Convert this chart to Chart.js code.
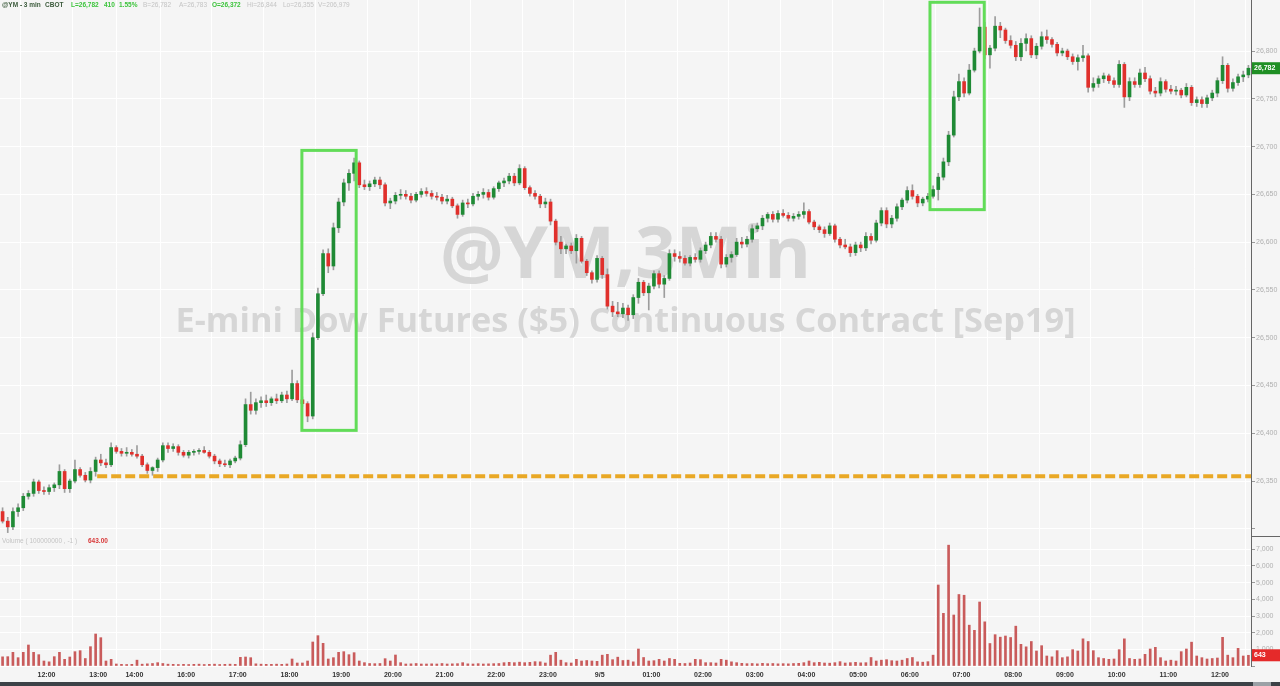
<!DOCTYPE html>
<html><head><meta charset="utf-8">
<script src="https://cdn.jsdelivr.net/npm/chart.js@4.4.1/dist/chart.umd.min.js"></script>
<style>
html,body{margin:0;padding:0;background:#f5f5f5;width:1280px;height:686px;overflow:hidden;font-family:"Liberation Sans",Arial,sans-serif;}
#wrap{position:relative;width:1280px;height:686px;}
#pc{position:absolute;left:0;top:0;}
#vc{position:absolute;left:0;top:537px;}
.t{position:absolute;white-space:nowrap;font-size:6.5px;line-height:8px;}
.b{font-weight:bold;}
.dk{color:#3b5a3b;}
.gr{color:#3cc43c;}
.gy{color:#c4c4c4;}
#sep{position:absolute;left:1251px;top:536px;width:29px;height:1px;background:#666;}
#bar{position:absolute;left:0;top:682px;width:1280px;height:4px;background:#3c4247;}
#thumb{position:absolute;left:1253px;top:682px;width:18px;height:4px;background:#9ba1a6;}
</style></head>
<body><div id="wrap">
<canvas id="pc" width="1280" height="537"></canvas>
<canvas id="vc" width="1280" height="145"></canvas>
<div id="sep"></div><div id="bar"></div><div id="thumb"></div>
<span class="t b dk" style="left:2px;top:1px">@YM - 3 min</span>
<span class="t b dk" style="left:45px;top:1px">CBOT</span>
<span class="t b gr" style="left:71px;top:1px">L=26,782</span>
<span class="t b gr" style="left:104px;top:1px">410</span>
<span class="t b gr" style="left:119px;top:1px">1.55%</span>
<span class="t gy" style="left:143px;top:1px">B=26,782</span>
<span class="t gy" style="left:179px;top:1px">A=26,783</span>
<span class="t b gr" style="left:212px;top:1px">O=26,372</span>
<span class="t gy" style="left:247px;top:1px">Hi=26,844</span>
<span class="t gy" style="left:283px;top:1px">Lo=26,355</span>
<span class="t gy" style="left:318px;top:1px">V=206,979</span>
<span class="t gy" style="left:2px;top:537px">Volume ( 100000000 , -1 )</span>
<span class="t b" style="left:88px;top:537px;color:#d83a3a">643.00</span>
</div>
<script>
// ---- data (6-minute aggregation of the 3-min candles) ----
const opens = [
26318,26308,26302,26318,26322,26334,26337,26349,26340,26339,
26343,26346,26360,26342,26350,26362,26356,26351,26360,26372,
26369,26367,26385,26381,26379,26380,26378,26376,26367,26361,
26364,26372,26387,26384,26386,26380,26377,26380,26381,26382,
26380,26376,26371,26368,26367,26371,26374,26388,26430,26424,
26432,26434,26432,26436,26434,26440,26436,26452,26435,26431,
26418,26500,26546,26588,26575,26615,26642,26662,26672,26683,
26660,26658,26661,26665,26660,26641,26643,26649,26650,26648,
26644,26650,26653,26651,26648,26647,26643,26645,26638,26629,
26641,26640,26648,26650,26652,26647,26656,26662,26664,26669,
26662,26677,26657,26651,26648,26640,26642,26622,26600,26593,
26596,26591,26604,26580,26568,26561,26583,26566,26533,26527,
26525,26531,26524,26542,26558,26547,26554,26567,26556,26562,
26588,26585,26583,26578,26584,26582,26591,26597,26606,26603,
26577,26584,26587,26600,26598,26603,26614,26617,26625,26629,
26624,26630,26628,26625,26627,26629,26632,26621,26616,26613,
26609,26617,26603,26597,26595,26589,26597,26594,26606,26602,
26620,26633,26619,26625,26637,26644,26654,26648,26641,26645,
26648,26655,26668,26684,26712,26752,26768,26756,26780,26800,
26825,26796,26803,26826,26822,26811,26806,26794,26808,26813,
26796,26805,26815,26812,26807,26798,26800,26794,26789,26793,
26795,26762,26766,26771,26774,26769,26765,26786,26752,26768,
26765,26777,26771,26758,26756,26768,26760,26758,26759,26754,
26762,26746,26749,26745,26751,26756,26769,26785,26761,26767,
26773,26775];
const highs = [
26322,26312,26322,26326,26337,26340,26352,26351,26344,26346,
26348,26367,26362,26352,26372,26364,26359,26364,26375,26378,
26373,26390,26387,26384,26385,26383,26387,26378,26369,26365,
26374,26390,26390,26389,26388,26382,26382,26383,26384,26386,
26382,26378,26373,26372,26373,26376,26392,26436,26443,26436,
26438,26440,26438,26441,26443,26444,26466,26455,26438,26433,
26505,26552,26592,26593,26620,26646,26666,26676,26688,26685,
26665,26664,26668,26668,26662,26646,26652,26655,26654,26651,
26652,26656,26657,26654,26652,26650,26649,26647,26640,26644,
26645,26651,26653,26656,26655,26658,26664,26667,26672,26672,
26681,26679,26659,26654,26650,26646,26645,26624,26606,26598,
26599,26608,26606,26582,26570,26586,26585,26572,26538,26537,
26536,26534,26545,26562,26560,26557,26570,26570,26565,26592,
26592,26590,26586,26586,26588,26594,26600,26610,26610,26606,
26587,26590,26604,26605,26606,26618,26620,26628,26631,26632,
26633,26634,26631,26630,26632,26641,26634,26623,26618,26616,
26620,26619,26605,26603,26598,26600,26600,26610,26609,26623,
26636,26636,26628,26640,26646,26658,26660,26650,26647,26651,
26659,26672,26688,26716,26758,26776,26772,26786,26803,26845,
26830,26806,26836,26830,26824,26816,26810,26813,26818,26816,
26808,26820,26822,26814,26809,26803,26802,26797,26796,26806,
26797,26772,26774,26777,26776,26772,26790,26788,26772,26772,
26781,26783,26774,26762,26772,26770,26764,26763,26761,26766,
26764,26752,26752,26754,26759,26772,26794,26787,26771,26776,
26779,26785];
const lows = [
26306,26296,26299,26313,26319,26331,26334,26337,26336,26336,
26339,26342,26338,26338,26348,26354,26349,26348,26355,26366,
26364,26365,26379,26376,26376,26376,26374,26365,26358,26356,
26360,26370,26380,26381,26377,26375,26374,26377,26378,26379,
26374,26368,26365,26365,26364,26369,26372,26386,26420,26420,
26427,26428,26429,26431,26432,26432,26434,26432,26428,26412,
26415,26498,26544,26568,26571,26610,26638,26654,26664,26657,
26655,26654,26658,26656,26638,26635,26640,26645,26645,26641,
26642,26647,26648,26645,26644,26640,26640,26636,26625,26627,
26636,26638,26644,26646,26644,26645,26653,26658,26661,26659,
26660,26655,26648,26645,26636,26636,26618,26597,26588,26588,
26588,26578,26578,26565,26557,26558,26562,26530,26522,26522,
26521,26518,26520,26536,26544,26529,26551,26552,26542,26560,
26580,26579,26576,26575,26579,26579,26588,26594,26600,26573,
26574,26579,26585,26594,26595,26600,26611,26613,26621,26621,
26621,26626,26622,26622,26624,26625,26619,26613,26610,26605,
26607,26600,26594,26593,26585,26586,26590,26591,26598,26600,
26617,26615,26615,26622,26634,26641,26645,26637,26638,26642,
26646,26644,26665,26680,26710,26748,26752,26754,26778,26798,
26792,26782,26800,26814,26808,26803,26790,26790,26800,26793,
26792,26802,26808,26804,26795,26795,26791,26786,26780,26789,
26757,26758,26762,26767,26766,26762,26762,26741,26748,26762,
26762,26768,26755,26752,26753,26757,26755,26754,26751,26752,
26743,26742,26741,26741,26748,26752,26766,26757,26758,26764,
26768,26772];
const closes = [
26308,26302,26318,26322,26334,26337,26349,26340,26339,26343,
26346,26360,26342,26350,26362,26356,26351,26360,26372,26369,
26367,26385,26381,26379,26380,26378,26376,26367,26361,26364,
26372,26387,26384,26386,26380,26377,26380,26381,26382,26380,
26376,26371,26368,26367,26371,26374,26388,26430,26424,26432,
26434,26432,26436,26434,26440,26436,26452,26435,26431,26418,
26500,26546,26588,26575,26615,26642,26662,26672,26683,26660,
26658,26661,26665,26660,26641,26643,26649,26650,26648,26644,
26650,26653,26651,26648,26647,26643,26645,26638,26629,26641,
26640,26648,26650,26652,26647,26656,26662,26664,26669,26662,
26677,26657,26651,26648,26640,26642,26622,26600,26593,26596,
26591,26604,26580,26568,26561,26583,26566,26533,26527,26525,
26531,26524,26542,26558,26547,26554,26567,26556,26562,26588,
26585,26583,26578,26584,26582,26591,26597,26606,26603,26577,
26584,26587,26600,26598,26603,26614,26617,26625,26629,26624,
26630,26628,26625,26627,26629,26632,26621,26616,26613,26609,
26617,26603,26597,26595,26589,26597,26594,26606,26602,26620,
26633,26619,26625,26637,26644,26654,26648,26641,26645,26648,
26655,26668,26684,26712,26752,26768,26756,26780,26800,26825,
26796,26803,26826,26822,26811,26806,26794,26808,26813,26796,
26805,26815,26812,26807,26798,26800,26794,26789,26793,26795,
26762,26766,26771,26774,26769,26765,26786,26752,26768,26765,
26777,26771,26758,26756,26768,26760,26758,26759,26754,26762,
26746,26749,26745,26751,26756,26769,26785,26761,26767,26773,
26775,26782];
const volumes = [
550,560,820,500,820,1260,820,680,300,250,
560,820,400,540,860,920,450,1160,1920,1700,
300,400,120,100,90,100,350,110,130,150,
200,150,110,100,90,100,90,100,110,90,
100,110,90,100,110,100,520,540,500,130,
110,100,100,110,100,120,420,180,180,300,
1440,1820,1360,420,500,820,860,680,800,300,
200,150,140,150,440,300,660,200,120,130,
150,120,120,130,120,150,120,130,140,200,
130,120,140,120,130,140,150,200,220,200,
230,200,220,260,250,180,650,820,350,200,
180,400,300,330,300,280,650,700,380,530,
330,350,250,1020,510,300,320,400,300,450,
400,160,150,180,400,380,200,200,180,400,
350,250,200,160,140,150,130,160,140,150,
130,140,130,150,160,200,300,200,220,180,
170,200,260,180,200,220,190,200,510,300,
350,380,320,300,350,450,510,250,230,260,
650,4860,3160,7250,3060,4290,4245,2450,2140,3840,
2650,1350,1880,1730,1800,1710,2390,1300,1150,1470,
900,1220,600,550,920,500,550,980,900,1630,
1470,920,500,450,400,420,980,1630,450,400,
420,700,1020,1120,500,300,350,300,860,1020,
1430,600,500,420,450,480,1720,650,500,1060,
600,643];
// time axis: label and the bar index at which that hour starts
const hourLabels = ['12:00','13:00','14:00','16:00','17:00','18:00','19:00','20:00','21:00','22:00','23:00','9/5',
  '01:00','02:00','03:00','04:00','05:00','06:00','07:00','08:00','09:00','10:00','11:00','12:00'];
const hourStartBar = [9,19,26,36,46,56,66,76,86,96,106,116,126,136,146,156,166,176,186,196,206,216,226,236];
const priceTicks = [26300,26350,26400,26450,26500,26550,26600,26650,26700,26750,26800];
const volumeTicks = [0,1000,2000,3000,4000,5000,6000,7000];
const priceRange = [26291.4, 26853.4];
const volumeRange = [0, 7740];
// annotations
const supportLevel = 26355, supportFromBar = 18.3;
const boxFrom = [57.9, 179.4], boxTo = [68.4, 189.9], boxLow = [26403, 26634], boxHigh = [26696, 26851];
const watermark1 = '@YM,3Min';
const watermark2 = 'E-mini Dow Futures ($5) Continuous Contract [Sep19]';

// ---- rendering ----
const N = closes.length;
const GREEN = '#1f8a35', RED = '#e0302c';
const fmt = v => Math.round(v).toLocaleString('en-US');
const axisFont = '"Liberation Sans Narrow","Liberation Sans",Arial,sans-serif';

const xScale = (showLabels) => ({
  type:'linear', min:-0.5, max:N-0.5, offset:false,
  afterBuildTicks: s => { s.ticks = hourStartBar.map(b => ({value: b - 0.5})); },
  afterFit: s => { s.height = showLabels ? 16 : 0; s.paddingLeft = 0; s.paddingRight = 0; },
  grid:{color:'#ffffff', lineWidth:1, drawTicks:false},
  border:{display:false},
  ticks: showLabels ? {autoSkip:false, maxRotation:0, minRotation:0, padding:5, color:'#333',
      font:{family:axisFont, size:7, weight:'bold'}, callback:(v,i)=>hourLabels[i]} : {display:false}
});
const yFit = s => { s.width = 29; s.paddingTop = 0; s.paddingBottom = 0; };

const overlay = {
  id:'overlay',
  beforeDatasetsDraw(chart){
    const ctx = chart.ctx, a = chart.chartArea, cx = (a.left + a.right)/2;
    ctx.save();
    ctx.fillStyle = '#d6d6d6';
    ctx.textAlign = 'center'; ctx.textBaseline = 'alphabetic';
    ctx.font = 'bold 71px "Open Sans"';
    ctx.fillText(watermark1, cx, 278);
    ctx.font = 'bold 34.3px "Open Sans"';
    ctx.fillText(watermark2, cx, 332);
    ctx.restore();
  },
  afterDatasetsDraw(chart){
    const ctx = chart.ctx, xs = chart.scales.x, ys = chart.scales.y, a = chart.chartArea;
    ctx.save();
    const sy = ys.getPixelForValue(supportLevel);
    ctx.strokeStyle = '#e9a825'; ctx.lineWidth = 4; ctx.setLineDash([10,4]);
    ctx.beginPath(); ctx.moveTo(xs.getPixelForValue(supportFromBar), sy); ctx.lineTo(a.right, sy); ctx.stroke();
    ctx.setLineDash([]);
    ctx.strokeStyle = '#62dc58'; ctx.lineWidth = 3;
    for (let k = 0; k < boxFrom.length; k++) {
      const x1 = xs.getPixelForValue(boxFrom[k]), x2 = xs.getPixelForValue(boxTo[k]);
      const y1 = ys.getPixelForValue(boxHigh[k]), y2 = ys.getPixelForValue(boxLow[k]);
      ctx.strokeRect(x1, y1, x2 - x1, y2 - y1);
    }
    ctx.restore();
  },
  afterDraw(chart){
    const ctx = chart.ctx, ys = chart.scales.y, a = chart.chartArea;
    const last = closes[N-1], y = ys.getPixelForValue(last);
    ctx.save();
    ctx.fillStyle = '#1f8f24';
    ctx.fillRect(a.right + 1, y - 6, 1280 - a.right - 1, 12);
    ctx.fillStyle = '#fff'; ctx.font = 'bold 7px ' + axisFont;
    ctx.textBaseline = 'middle'; ctx.textAlign = 'left';
    ctx.fillText(fmt(last), a.right + 3, y);
    ctx.restore();
  }
};

new Chart(document.getElementById('pc'), {
  type:'bar',
  data:{datasets:[
    {label:'body', data: opens.map((o,i)=>({x:i, y:[o, closes[i]]})),
     backgroundColor: closes.map((c,i)=> c >= opens[i] ? GREEN : RED),
     barThickness:3, grouped:false, order:0, minBarLength:1, borderWidth:0},
    {label:'wick', data: lows.map((l,i)=>({x:i, y:[l, highs[i]]})),
     backgroundColor:'#9d9d9d', barThickness:1, grouped:false, order:1, borderWidth:0}
  ]},
  options:{
    responsive:false, animation:false, devicePixelRatio:1,
    layout:{padding:0},
    plugins:{legend:{display:false}, tooltip:{enabled:false}},
    scales:{
      x: xScale(false),
      y:{position:'right', min:priceRange[0], max:priceRange[1],
        afterBuildTicks: s => { s.ticks = priceTicks.map(v => ({value:v})); },
        afterFit: yFit,
        border:{display:true, color:'#666', width:1},
        grid:{color:'#ffffff', lineWidth:1, drawTicks:true, tickLength:4, tickColor:'#999'},
        ticks:{color:'#b0b0b0', padding:1, font:{family:axisFont, size:7},
          callback: v => v === priceTicks[0] ? '' : fmt(v)}}
    }
  },
  plugins:[overlay]
});

const volTag = {
  id:'volTag',
  afterDraw(chart){
    const ctx = chart.ctx, ys = chart.scales.y, a = chart.chartArea;
    const v = volumes[N-1], y = ys.getPixelForValue(v);
    ctx.save();
    ctx.fillStyle = '#e52a2a';
    ctx.fillRect(a.right + 1, y - 6, 1280 - a.right - 1, 12);
    ctx.fillStyle = '#fff'; ctx.font = 'bold 7px ' + axisFont;
    ctx.textBaseline = 'middle'; ctx.textAlign = 'left';
    ctx.fillText(String(v), a.right + 3, y);
    ctx.restore();
  }
};

new Chart(document.getElementById('vc'), {
  type:'bar',
  data:{datasets:[
    {label:'Volume', data: volumes.map((v,i)=>({x:i, y:v})),
     backgroundColor:'#c95b5b', barThickness:2, borderWidth:0}
  ]},
  options:{
    responsive:false, animation:false, devicePixelRatio:1,
    layout:{padding:0},
    plugins:{legend:{display:false}, tooltip:{enabled:false}},
    scales:{
      x: xScale(true),
      y:{position:'right', min:volumeRange[0], max:volumeRange[1],
        afterBuildTicks: s => { s.ticks = volumeTicks.map(v => ({value:v})); },
        afterFit: yFit,
        border:{display:true, color:'#666', width:1},
        grid:{color:'#ffffff', lineWidth:1, drawTicks:true, tickLength:4, tickColor:'#999'},
        ticks:{color:'#b0b0b0', padding:1, font:{family:axisFont, size:7},
          callback: v => v === 0 ? '' : fmt(v)}}
    }
  },
  plugins:[volTag]
});
</script>
</body></html>
